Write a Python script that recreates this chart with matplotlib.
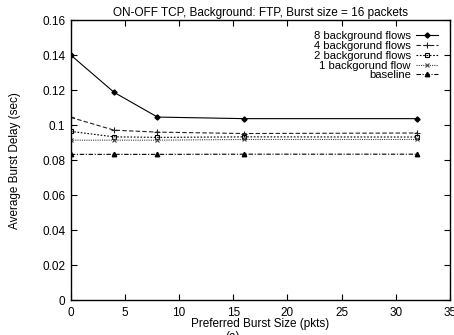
import matplotlib
matplotlib.use("Agg")
import matplotlib.pyplot as plt
from matplotlib.ticker import FuncFormatter

plt.rcParams['font.family'] = ['Liberation Sans', 'DejaVu Sans']

x = [0, 4, 8, 16, 32]
flows8 = [0.140, 0.1187, 0.1046, 0.1037, 0.1037]
flows4 = [0.1044, 0.0971, 0.0960, 0.0952, 0.0955]
flows2 = [0.0964, 0.0933, 0.0930, 0.0933, 0.0932]
flows1 = [0.0914, 0.0914, 0.0914, 0.0918, 0.0918]
baseline = [0.0833, 0.0833, 0.0833, 0.0834, 0.0834]
labels = ["8 background flows", "4 backgorund flows", "2 backgorund flows",
          "1 backgorund flow", "baseline"]
xticks = [0, 5, 10, 15, 20, 25, 30, 35]
yticks = [0, 0.02, 0.04, 0.06, 0.08, 0.1, 0.12, 0.14, 0.16]

fs = 8.5
lfs = 8.1
fig = plt.figure(figsize=(4.54, 3.35), dpi=100)
ax = fig.add_axes([0.156, 0.104, 0.835, 0.836])

lw = 0.8
ax.plot(x, flows8, color='black', lw=lw, ls='-', marker='D', ms=2.6, mfc='black', label=labels[0])
ax.plot(x, flows4, color='#222222', lw=lw, ls=(0, (4, 2)), marker='+', ms=4, mew=0.8, label=labels[1])
ax.plot(x, flows2, color='black', lw=lw, ls=(0, (1.5, 1.5)), marker='s', ms=3.5, mfc='none', mew=0.8, label=labels[2])
ax.plot(x, flows1, color='#444444', lw=lw, ls=(0, (1, 1)), marker='x', ms=3.2, mew=0.8, label=labels[3])
ax.plot(x, baseline, color='black', lw=lw, ls=(0, (4, 1.5, 1, 1.5)), marker='^', ms=3.2, mfc='black', label=labels[4])

ax.set_xlim(0, 35)
ax.set_ylim(0, 0.16)
ax.set_xticks(xticks)
ax.set_yticks(yticks)
ax.yaxis.set_major_formatter(FuncFormatter(lambda v, p: "%g" % v))
ax.tick_params(direction='in', top=True, right=True, length=4, width=0.8, labelsize=fs, pad=4)
ax.tick_params(axis='x', pad=5)
for s in ax.spines.values():
    s.set_linewidth(1.0)

ax.set_title("ON-OFF TCP, Background: FTP, Burst size = 16 packets", fontsize=fs, pad=3)
ax.set_xlabel("Preferred Burst Size (pkts)", fontsize=fs, labelpad=-1)
ax.set_ylabel("Average Burst Delay (sec)", fontsize=fs, labelpad=15)

leg = ax.legend(loc='upper right', bbox_to_anchor=(0.989, 0.989), markerfirst=False, frameon=False,
                fontsize=lfs, labelspacing=-0.015, handlelength=1.95, handletextpad=0.45, borderpad=0.2)

fig.text(0.513, 0.012, "(a)", ha='center', va='top', fontsize=fs)

fig.savefig("out.png", dpi=100)
